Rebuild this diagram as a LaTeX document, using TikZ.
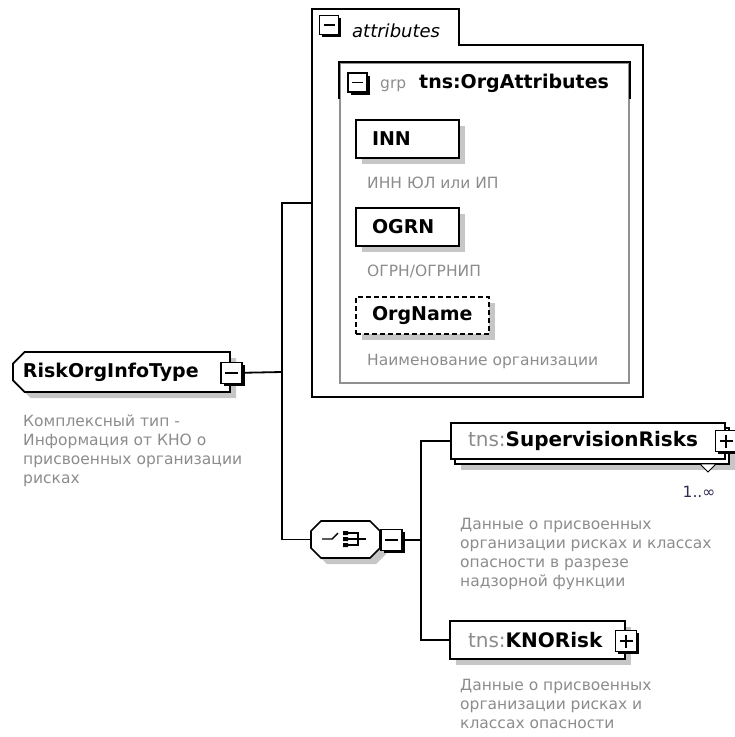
\documentclass[tikz,border=0pt]{standalone}
\usepackage{fontspec}
\setmainfont{DejaVu Sans}
\usetikzlibrary{positioning,shapes.misc,shadows}
\definecolor{descgray}{HTML}{8C8C8C}
\definecolor{grpgray}{HTML}{909090}
\definecolor{shadowgray}{HTML}{C6C6C6}
\definecolor{occurs}{HTML}{2E2A52}
\newcommand{\descfont}{\fontsize{15.5}{19}\selectfont}
\newcommand{\namefont}{\fontsize{19}{22}\selectfont\bfseries}
\newcommand{\childfont}{\fontsize{20}{22}\selectfont\bfseries}
\tikzset{
  shadowed/.style={drop shadow={shadow xshift=6pt,shadow yshift=-6pt,fill=shadowgray,opacity=1}},
  box/.style={draw,line width=1.7pt,fill=white,inner xsep=16pt,inner ysep=0pt,
    font=\namefont,minimum height=38pt,align=left},
  elem/.style={box,shadowed},
  multielem/.style={box,
    drop shadow={shadow xshift=10pt,shadow yshift=-11pt,fill=shadowgray,opacity=1},
    copy shadow={shadow xshift=4pt,shadow yshift=-5pt,draw,fill=white,line width=1.7pt}},
  optelem/.style={elem,dash pattern=on 5pt off 3pt},
  desc/.style={anchor=north west,inner sep=0pt,align=left,text=descgray,font=\descfont},
  pmbox/.style={draw,line width=1.6pt,fill=white,minimum size=21pt,inner sep=0pt,
    drop shadow={shadow xshift=2.5pt,shadow yshift=-2.5pt,fill=black,opacity=1}},
  pmminus/.style={pmbox,path picture={
    \draw[line width=1.6pt] ([xshift=4pt]path picture bounding box.west) -- ([xshift=-4pt]path picture bounding box.east);}},
  pmplus/.style={pmbox,path picture={
    \draw[line width=1.6pt] ([xshift=4pt]path picture bounding box.west) -- ([xshift=-4pt]path picture bounding box.east)
      ([yshift=-4pt]path picture bounding box.north) -- ([yshift=4pt]path picture bounding box.south);}},
  link/.style={line width=1.8pt},
}
\begin{document}
\begin{tikzpicture}[x=1pt,y=-1pt]
\useasboundingbox (0,0) rectangle (735,737);
% root type
\node[elem,chamfered rectangle,chamfered rectangle corners={north west,south west},
  chamfered rectangle xsep=8pt,minimum width=217pt,minimum height=40pt,inner xsep=2pt,text width=197pt] (root) at (121.5,372) {RiskOrgInfoType};
\node[pmminus] (rootminus) at (231.5,373) {};
\node[desc] (rootdesc) at (23,414.5) {Комплексный тип -\\Информация от КНО о\\присвоенных организации\\рисках};

% attributes container
\node[minimum width=331pt,minimum height=388pt,inner sep=0pt] (attrs) at (477.5,203) {};
\draw[line width=1.7pt] (attrs.south west) -- (attrs.north west) -- ++(147,0) -- ++(0,36) -| (attrs.south east) -- cycle;
\node[pmminus,minimum size=19pt] (attrsminus) at (329,25) {};
\node[anchor=base west,inner sep=0pt,font=\fontsize{18}{20}\selectfont\itshape] (attrslabel) at (352,37) {attributes};

% attribute group
\node[draw=grpgray,line width=1.7pt,minimum width=289pt,minimum height=320pt,inner sep=0pt] (grp) at (484.5,223) {};
\draw[line width=1.7pt] ([yshift=-37pt]grp.north west) -- (grp.north west) -- (grp.north east) -- ([yshift=-37pt]grp.north east);
\node[pmminus,minimum size=19pt] (grpminus) at (357.5,82.5) {};
\node[anchor=base west,inner sep=0pt,text=descgray,font=\descfont] (grptag) at (380,88) {grp};
\node[anchor=base west,inner sep=0pt,font=\namefont] (grpname) at (419,88) {tns:OrgAttributes};

\node[elem,minimum width=103pt,text width=71pt] (inn) at (407.5,139) {INN};
\node[desc] (inndesc) at (367,177) {ИНН ЮЛ или ИП};
\node[elem,minimum width=103pt,text width=71pt] (ogrn) at (407.5,227) {OGRN};
\node[desc] (ogrndesc) at (367,265) {ОГРН/ОГРНИП};
\node[optelem,minimum width=133pt,minimum height=37pt,text width=101pt] (orgname) at (422.5,315.5) {OrgName};
\node[desc] (orgnamedesc) at (367,353.5) {Наименование организации};

% sequence
\draw[line width=1.7pt,fill=white,shadowed] (321,521) -- (370,521) -- (380,531) -- (380,548) -- (370,558)
  -- (321,558) -- (311,548) -- (311,531) -- cycle;
\node[minimum width=69pt,minimum height=37pt,inner sep=0pt] (seq) at (345.5,539.5) {};
\draw[line width=1.4pt] (322,539) -- (332,539) -- (338,533);
\fill (343,531) rectangle (348,535) (343,537) rectangle (348,541) (343,543) rectangle (348,547);
\draw[line width=1.4pt] (348,533) -- (358,533) -- (358,545) -- (348,545) (348,539) -- (366,539);
\node[pmminus] (seqminus) at (391.5,540) {};

% child elements
\node[multielem,font=\childfont,minimum width=274pt,minimum height=36pt,text width=240pt] (suprisks) at (588,441)
  {\textcolor{descgray}{\mdseries tns:}SupervisionRisks};
\draw[line width=0.9pt,fill=white] (700,464) -- (716,464) -- (708,472) -- cycle;
\node[pmplus] (supplus) at (726,441) {};
\node[anchor=center,inner sep=0pt,text=occurs,font=\descfont] (supocc) at (699,492) {1..∞};
\node[desc] (suprisksdesc) at (460,517.5) {Данные о присвоенных\\организации рисках и классах\\опасности в разрезе\\надзорной функции};

\node[elem,font=\childfont,minimum width=175pt,text width=139pt] (knorisk) at (537.5,640) {\textcolor{descgray}{\mdseries tns:}KNORisk};
\node[pmplus] (knoplus) at (626,641) {};
\node[desc] (knoriskdesc) at (460,678.5) {Данные о присвоенных\\организации рисках и\\классах опасности};

% connectors
\coordinate (fork1) at (282,372);
\coordinate (fork2) at (421,540);
\draw[link] (rootminus) -- (fork1);
\draw[link] (attrs.west) -| (fork1) |- (seq.west);
\draw[link] (seqminus) -- (fork2);
\draw[link] (suprisks.west) -| (fork2) |- (knorisk.west);
\end{tikzpicture}
\end{document}
